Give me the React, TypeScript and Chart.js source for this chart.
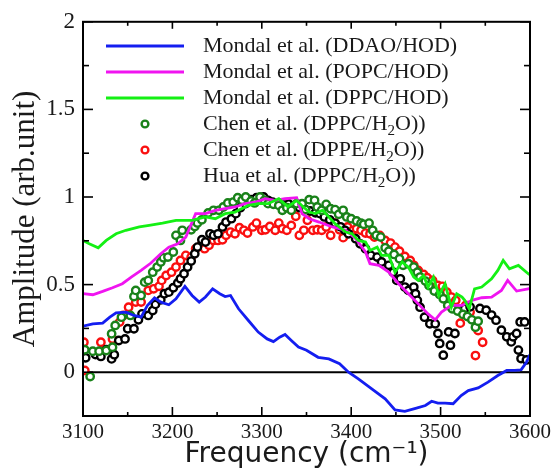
import React, { useEffect, useRef } from "react";
import { Chart, registerables } from "chart.js";

Chart.register(...registerables);

// ---------- Axis ticks ----------
const xTickValues = [3100, 3200, 3300, 3400, 3500, 3600];
const xMinorTickValues = [3150, 3250, 3350, 3450, 3550];
const yTickLabels = ["0", "0.5", "1", "1.5", "2"];
const yMinorTickValues = [0.25, 0.75, 1.25, 1.75];
const xTitle = "Frequency (cm\u207B\u00B9)";
const yTitle = "Amplitude (arb.unit)";

// ---------- Legend labels ----------
const legendLabels = [
  "Mondal et al. (DDAO/HOD)",
  "Mondal et al. (POPC/HOD)",
  "Mondal et al. (DPPC/HOD)",
  "Chen et al. (DPPC/H\u2082O))",
  "Chen et al. (DPPE/H\u2082O))",
  "Hua et al. (DPPC/H\u2082O))",
];

// ---------- Mondal et al. (DDAO/HOD) ----------
const ddaoFreq = [3100, 3111, 3122, 3130, 3137, 3148, 3157, 3165, 3172, 3180, 3187, 3196, 3204, 3214, 3222, 3230, 3237, 3245, 3253, 3259, 3265, 3274, 3285, 3296, 3306, 3313, 3320, 3326, 3333, 3341, 3350, 3363, 3375, 3387, 3397, 3408, 3423, 3438, 3449, 3460, 3472, 3483, 3490, 3497, 3505, 3514, 3523, 3531, 3542, 3553, 3564, 3574, 3583, 3590, 3596, 3600];
const ddaoAmp = [0.263, 0.276, 0.28, 0.314, 0.339, 0.343, 0.324, 0.314, 0.381, 0.425, 0.4, 0.385, 0.419, 0.49, 0.438, 0.4, 0.429, 0.476, 0.448, 0.432, 0.438, 0.362, 0.295, 0.229, 0.19, 0.175, 0.2, 0.215, 0.181, 0.143, 0.125, 0.085, 0.076, 0.048, 0.0, -0.038, -0.095, -0.152, -0.215, -0.223, -0.206, -0.19, -0.166, -0.177, -0.177, -0.18, -0.133, -0.105, -0.09, -0.057, -0.019, 0.01, 0.01, 0.013, 0.057, 0.1];

// ---------- Mondal et al. (POPC/HOD) ----------
const popcFreq = [3100, 3111, 3122, 3133, 3144, 3154, 3165, 3176, 3187, 3196, 3206, 3215, 3226, 3237, 3248, 3259, 3270, 3281, 3293, 3304, 3315, 3326, 3339, 3345, 3353, 3364, 3379, 3394, 3405, 3416, 3421, 3431, 3442, 3453, 3464, 3475, 3486, 3494, 3501, 3512, 3524, 3535, 3546, 3557, 3568, 3575, 3585, 3598, 3600];
const popcAmp = [0.448, 0.442, 0.461, 0.482, 0.505, 0.543, 0.581, 0.623, 0.676, 0.714, 0.733, 0.771, 0.905, 0.905, 0.924, 0.933, 0.943, 0.962, 0.971, 0.99, 0.981, 0.99, 0.996, 0.905, 0.876, 0.857, 0.829, 0.81, 0.762, 0.686, 0.619, 0.61, 0.571, 0.505, 0.448, 0.39, 0.333, 0.299, 0.343, 0.381, 0.381, 0.41, 0.425, 0.429, 0.467, 0.524, 0.463, 0.476, 0.478];

// ---------- Mondal et al. (DPPC/HOD) ----------
const dppcHodFreq = [3100, 3107, 3117, 3126, 3137, 3148, 3163, 3174, 3189, 3204, 3222, 3237, 3248, 3259, 3270, 3285, 3296, 3307, 3319, 3329, 3339, 3345, 3353, 3360, 3368, 3375, 3382, 3394, 3401, 3408, 3416, 3421, 3429, 3434, 3442, 3449, 3457, 3464, 3470, 3475, 3481, 3486, 3492, 3498, 3505, 3512, 3518, 3524, 3527, 3532, 3538, 3546, 3557, 3564, 3570, 3577, 3587, 3598, 3600];
const dppcHodAmp = [0.752, 0.733, 0.71, 0.752, 0.79, 0.81, 0.829, 0.838, 0.851, 0.867, 0.867, 0.886, 0.876, 0.905, 0.914, 0.952, 0.962, 0.962, 0.99, 0.945, 0.98, 0.95, 0.914, 0.905, 0.924, 0.886, 0.848, 0.8, 0.79, 0.752, 0.743, 0.695, 0.714, 0.667, 0.667, 0.571, 0.629, 0.6, 0.543, 0.524, 0.552, 0.486, 0.543, 0.438, 0.505, 0.371, 0.448, 0.429, 0.41, 0.362, 0.476, 0.486, 0.533, 0.581, 0.638, 0.59, 0.61, 0.562, 0.555];

// ---------- Chen et al. (DPPC/H2O) ----------
const chenDppcFreq = [3102, 3108, 3111, 3118, 3126, 3133, 3132, 3136, 3143, 3153, 3157, 3159, 3165, 3169, 3173, 3178, 3183, 3187, 3190, 3195, 3201, 3204, 3209, 3211, 3221, 3225, 3228, 3233, 3240, 3246, 3252, 3257, 3262, 3268, 3273, 3278, 3282, 3288, 3292, 3298, 3303, 3307, 3313, 3319, 3323, 3328, 3333, 3339, 3345, 3349, 3353, 3359, 3362, 3367, 3372, 3377, 3382, 3386, 3391, 3395, 3400, 3406, 3411, 3414, 3420, 3424, 3428, 3433, 3438, 3442, 3448, 3454, 3458, 3464, 3470, 3474, 3477, 3483, 3487, 3493, 3499, 3503, 3508, 3513, 3519, 3525, 3530, 3535, 3539, 3542];
const chenDppcAmp = [0.128, -0.025, 0.12, 0.12, 0.124, 0.143, 0.219, 0.267, 0.314, 0.324, 0.432, 0.467, 0.438, 0.514, 0.524, 0.571, 0.6, 0.629, 0.653, 0.657, 0.686, 0.781, 0.752, 0.81, 0.813, 0.832, 0.851, 0.87, 0.909, 0.924, 0.924, 0.943, 0.966, 0.971, 0.996, 0.981, 1.0, 0.977, 0.966, 1.0, 0.981, 0.962, 0.958, 0.952, 0.924, 0.939, 0.924, 0.962, 0.962, 0.928, 0.985, 0.981, 0.943, 0.924, 0.958, 0.933, 0.928, 0.901, 0.924, 0.886, 0.876, 0.863, 0.851, 0.844, 0.851, 0.81, 0.781, 0.771, 0.71, 0.691, 0.672, 0.648, 0.61, 0.619, 0.6, 0.571, 0.543, 0.52, 0.495, 0.463, 0.444, 0.419, 0.381, 0.362, 0.349, 0.33, 0.318, 0.299, 0.257, 0.291];

// ---------- Chen et al. (DPPE/H2O) ----------
const chenDppeFreq = [3101, 3102, 3120, 3133, 3141, 3145, 3151, 3159, 3165, 3173, 3179, 3185, 3188, 3193, 3199, 3204, 3209, 3215, 3221, 3226, 3232, 3236, 3241, 3246, 3251, 3256, 3260, 3265, 3270, 3275, 3280, 3284, 3290, 3294, 3300, 3304, 3309, 3315, 3319, 3323, 3328, 3333, 3338, 3342, 3347, 3351, 3357, 3362, 3367, 3372, 3377, 3382, 3387, 3391, 3396, 3402, 3406, 3411, 3416, 3421, 3426, 3432, 3438, 3444, 3449, 3454, 3460, 3466, 3470, 3475, 3481, 3485, 3491, 3497, 3502, 3507, 3512, 3517, 3522, 3528, 3533, 3539, 3542, 3547];
const chenDppeAmp = [0.171, 0.01, 0.171, 0.19, 0.286, 0.324, 0.371, 0.4, 0.4, 0.467, 0.476, 0.49, 0.524, 0.552, 0.571, 0.6, 0.638, 0.667, 0.657, 0.705, 0.724, 0.705, 0.724, 0.752, 0.752, 0.756, 0.781, 0.8, 0.79, 0.825, 0.81, 0.794, 0.829, 0.851, 0.81, 0.813, 0.832, 0.81, 0.851, 0.819, 0.81, 0.838, 0.89, 0.781, 0.81, 0.867, 0.81, 0.813, 0.81, 0.829, 0.781, 0.851, 0.813, 0.768, 0.829, 0.81, 0.819, 0.81, 0.794, 0.79, 0.771, 0.781, 0.752, 0.737, 0.714, 0.691, 0.661, 0.638, 0.61, 0.581, 0.558, 0.539, 0.524, 0.495, 0.49, 0.457, 0.429, 0.41, 0.28, 0.381, 0.343, 0.095, 0.238, 0.171];

// ---------- Hua et al. (DPPC/H2O) ----------
const huaFreq = [3103, 3114, 3120, 3126, 3132, 3135, 3140, 3147, 3150, 3157, 3162, 3166, 3173, 3178, 3181, 3187, 3191, 3196, 3201, 3206, 3209, 3213, 3217, 3221, 3225, 3228, 3233, 3237, 3242, 3246, 3251, 3256, 3260, 3266, 3271, 3276, 3282, 3288, 3294, 3302, 3307, 3312, 3318, 3324, 3330, 3336, 3342, 3348, 3354, 3360, 3365, 3370, 3376, 3382, 3388, 3393, 3397, 3405, 3410, 3416, 3422, 3429, 3434, 3442, 3447, 3451, 3455, 3460, 3464, 3470, 3472, 3474, 3477, 3482, 3488, 3494, 3497, 3499, 3503, 3509, 3511, 3516, 3527, 3533, 3544, 3551, 3557, 3562, 3568, 3574, 3579, 3581, 3585, 3587, 3589, 3590, 3594, 3596];
const huaAmp = [0.082, 0.101, 0.09, 0.128, 0.076, 0.1, 0.181, 0.19, 0.248, 0.248, 0.299, 0.333, 0.324, 0.352, 0.387, 0.413, 0.448, 0.457, 0.482, 0.509, 0.533, 0.562, 0.6, 0.634, 0.676, 0.714, 0.756, 0.743, 0.79, 0.781, 0.79, 0.829, 0.857, 0.876, 0.905, 0.939, 0.962, 0.985, 0.996, 1.0, 0.981, 0.97, 0.96, 0.955, 0.96, 0.95, 0.94, 0.93, 0.92, 0.91, 0.905, 0.886, 0.87, 0.85, 0.83, 0.81, 0.79, 0.762, 0.733, 0.705, 0.667, 0.657, 0.629, 0.61, 0.571, 0.524, 0.533, 0.486, 0.467, 0.486, 0.448, 0.41, 0.371, 0.314, 0.276, 0.276, 0.221, 0.164, 0.097, 0.23, 0.154, 0.221, 0.364, 0.373, 0.364, 0.354, 0.326, 0.297, 0.24, 0.202, 0.173, 0.202, 0.221, 0.126, 0.287, 0.078, 0.287, 0.07];

const zeroLineFreq = [3100, 3600];
const zeroLineAmp = [0, 0];

const colors = {
  ddao: "rgb(20,30,240)",
  popc: "rgb(240,20,240)",
  dppcHod: "rgb(20,240,20)",
  chenDppc: "rgb(25,130,25)",
  chenDppe: "rgb(250,15,15)",
  hua: "rgb(0,0,0)",
};

const toXY = (xs: number[], ys: number[]) => xs.map((x, i) => ({ x, y: ys[i] }));

const SERIF = "'Liberation Serif', 'Times New Roman', serif";
const SANS = "'DejaVu Sans', sans-serif";

const framePlugin = {
  id: "frame",
  afterDatasetsDraw(chart: any) {
    const { ctx, chartArea, scales } = chart;
    const { left, right, top, bottom } = chartArea;
    const x = scales.x;
    const y = scales.y;
    ctx.save();
    ctx.strokeStyle = "#000";
    ctx.lineWidth = 1.6;
    const seg = (x1: number, y1: number, x2: number, y2: number) => {
      ctx.beginPath();
      ctx.moveTo(x1, y1);
      ctx.lineTo(x2, y2);
      ctx.stroke();
    };
    yTickLabels.forEach((l) => {
      const py = y.getPixelForValue(parseFloat(l));
      seg(left, py, left + 10, py);
      seg(right, py, right - 10, py);
    });
    yMinorTickValues.forEach((v) => {
      const py = y.getPixelForValue(v);
      seg(left, py, left + 6, py);
      seg(right, py, right - 6, py);
    });
    xTickValues.forEach((v) => {
      const px = x.getPixelForValue(v);
      seg(px, bottom, px, bottom - 9);
      seg(px, top, px, top + 7);
    });
    xMinorTickValues.forEach((v) => {
      const px = x.getPixelForValue(v);
      seg(px, bottom, px, bottom - 4);
      seg(px, top, px, top + 4);
    });
    ctx.lineWidth = 2;
    ctx.strokeRect(left, top, right - left, bottom - top);
    ctx.restore();
  },
};

const legendPlugin = {
  id: "customLegend",
  afterDraw(chart: any) {
    const { ctx } = chart;
    const rows = [
      { kind: "line", color: colors.ddao },
      { kind: "line", color: colors.popc },
      { kind: "line", color: colors.dppcHod },
      { kind: "point", color: colors.chenDppc },
      { kind: "point", color: colors.chenDppe },
      { kind: "point", color: colors.hua },
    ];
    const rowY0 = 46;
    const rowStep = 26;
    ctx.save();
    rows.forEach((r, i) => {
      const cy = rowY0 + i * rowStep;
      if (r.kind === "line") {
        ctx.strokeStyle = r.color;
        ctx.lineWidth = 2.8;
        ctx.beginPath();
        ctx.moveTo(106, cy);
        ctx.lineTo(184, cy);
        ctx.stroke();
      } else {
        ctx.strokeStyle = r.color;
        ctx.fillStyle = "#fff";
        ctx.lineWidth = 2.4;
        ctx.beginPath();
        ctx.arc(145, cy, 3.4, 0, Math.PI * 2);
        ctx.fill();
        ctx.stroke();
      }
      const label = legendLabels[i];
      const parts = label.split("\u2082");
      let tx = 203;
      ctx.fillStyle = "#1a1a1a";
      ctx.textBaseline = "middle";
      ctx.textAlign = "left";
      parts.forEach((p, k) => {
        ctx.font = `22px ${SERIF}`;
        ctx.fillText(p, tx, cy);
        tx += ctx.measureText(p).width;
        if (k < parts.length - 1) {
          ctx.font = `15px ${SERIF}`;
          ctx.fillText("2", tx, cy + 7);
          tx += ctx.measureText("2").width;
        }
      });
    });
    ctx.restore();
  },
};

export default function App() {
  const canvasRef = useRef<HTMLCanvasElement | null>(null);

  useEffect(() => {
    document.body.style.margin = "0";
    const canvas = canvasRef.current;
    if (!canvas) return;

    const lineDs = (label: string, xs: number[], ys: number[], color: string, order: number) => ({
      label,
      data: toXY(xs, ys),
      showLine: true,
      borderColor: color,
      backgroundColor: color,
      borderWidth: 2.8,
      pointRadius: 0,
      tension: 0,
      order,
    });
    const pointDs = (label: string, xs: number[], ys: number[], color: string, order: number) => ({
      label,
      data: toXY(xs, ys),
      showLine: false,
      borderColor: color,
      backgroundColor: "#ffffff",
      borderWidth: 2.4,
      pointRadius: 3.7,
      pointStyle: "circle",
      order,
    });

    const chart = new Chart(canvas, {
      type: "scatter",
      data: {
        datasets: [
          lineDs(legendLabels[0], ddaoFreq, ddaoAmp, colors.ddao, 0),
          lineDs(legendLabels[1], popcFreq, popcAmp, colors.popc, 1),
          lineDs(legendLabels[2], dppcHodFreq, dppcHodAmp, colors.dppcHod, 0),
          pointDs(legendLabels[3], chenDppcFreq, chenDppcAmp, colors.chenDppc, 2),
          pointDs(legendLabels[4], chenDppeFreq, chenDppeAmp, colors.chenDppe, 4),
          pointDs(legendLabels[5], huaFreq, huaAmp, colors.hua, 3),
          {
            label: "zero",
            data: toXY(zeroLineFreq, zeroLineAmp),
            showLine: true,
            borderColor: "#000",
            borderWidth: 2,
            pointRadius: 0,
            order: 5,
          },
        ] as any,
      },
      options: {
        animation: false,
        responsive: false,
        maintainAspectRatio: false,
        devicePixelRatio: 1,
        layout: { padding: { top: 21, right: 23, left: 0, bottom: 0 } },
        plugins: {
          legend: { display: false },
          tooltip: { enabled: false },
        },
        scales: {
          x: {
            type: "linear",
            position: "bottom",
            min: 3100,
            max: 3600,
            grid: { display: false, drawTicks: false },
            border: { display: false },
            ticks: {
              stepSize: 100,
              autoSkip: false,
              maxRotation: 0,
              minRotation: 0,
              padding: 4,
              color: "#1a1a1a",
              font: { family: SERIF, size: 21 },
              callback: (v: any) => (xTickValues.includes(Number(v)) ? String(v) : ""),
            },
            title: {
              display: true,
              text: xTitle,
              color: "#1a1a1a",
              font: { family: SANS, size: 28 },
              padding: { top: 0, bottom: 0 },
            },
            afterFit: (s: any) => {
              s.height = 56;
            },
          },
          y: {
            type: "linear",
            position: "left",
            min: -0.25,
            max: 2,
            grid: { display: false, drawTicks: false },
            border: { display: false },
            ticks: {
              stepSize: 0.25,
              autoSkip: false,
              padding: 8,
              color: "#1a1a1a",
              font: { family: SERIF, size: 23 },
              callback: (v: any) => {
                const s = String(Math.round(Number(v) * 100) / 100);
                return yTickLabels.includes(s) ? s : "";
              },
            },
            title: {
              display: true,
              text: yTitle,
              color: "#1a1a1a",
              font: { family: SERIF, size: 31 },
              padding: { top: 7, bottom: 0 },
            },
            afterFit: (s: any) => {
              s.width = 83;
            },
          },
        },
      } as any,
      plugins: [framePlugin, legendPlugin],
    });

    return () => chart.destroy();
  }, []);

  return (
    <div style={{ width: 555, height: 472 }}>
      <canvas ref={canvasRef} width={555} height={472} style={{ display: "block" }} />
    </div>
  );
}
